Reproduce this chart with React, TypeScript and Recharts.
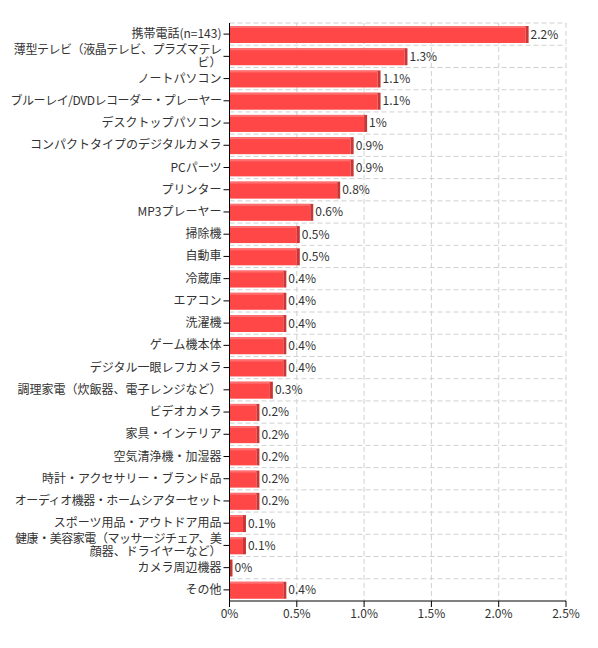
import React from 'react';
import { BarChart, Bar, XAxis, YAxis, CartesianGrid, LabelList } from 'recharts';

const categories = [
  '携帯電話(n=143)',
  '薄型テレビ（液晶テレビ、プラズマテレビ）',
  'ノートパソコン',
  'ブルーレイ/DVDレコーダー・プレーヤー',
  'デスクトップパソコン',
  'コンパクトタイプのデジタルカメラ',
  'PCパーツ',
  'プリンター',
  'MP3プレーヤー',
  '掃除機',
  '自動車',
  '冷蔵庫',
  'エアコン',
  '洗濯機',
  'ゲーム機本体',
  'デジタル一眼レフカメラ',
  '調理家電（炊飯器、電子レンジなど）',
  'ビデオカメラ',
  '家具・インテリア',
  '空気清浄機・加湿器',
  '時計・アクセサリー・ブランド品',
  'オーディオ機器・ホームシアターセット',
  'スポーツ用品・アウトドア用品',
  '健康・美容家電（マッサージチェア、美顔器、ドライヤーなど）',
  'カメラ周辺機器',
  'その他',
];

const values = [2.2, 1.3, 1.1, 1.1, 1, 0.9, 0.9, 0.8, 0.6, 0.5, 0.5, 0.4, 0.4, 0.4, 0.4, 0.4, 0.3, 0.2, 0.2, 0.2, 0.2, 0.2, 0.1, 0.1, 0, 0.4];

const xTicks = [0, 0.5, 1, 1.5, 2, 2.5];

const data = categories.map((name, i) => ({ name, value: values[i] }));

const FONT = "'Noto Sans CJK JP', 'Noto Sans', sans-serif";

const charW = (ch: string) => (ch.charCodeAt(0) < 256 ? 6.5 : 12);

function wrapLabel(text: string, maxW: number): string[] {
  const lines: string[] = [];
  let cur = '';
  let w = 0;
  for (const ch of Array.from(text)) {
    const cw = charW(ch);
    if (w + cw > maxW && cur) {
      lines.push(cur);
      cur = '';
      w = 0;
    }
    cur += ch;
    w += cw;
  }
  if (cur) lines.push(cur);
  return lines;
}

const estW = (s: string) => Array.from(s).reduce((a, c) => a + charW(c), 0);

const YTick = (props: any) => {
  const { x, y, payload } = props;
  const lines = wrapLabel(String(payload.value), 222);
  const lh = 13;
  const startDy = -((lines.length - 1) * lh) / 2;
  return (
    <text x={x} y={y} textAnchor="end" fill="#333" fontSize={12} fontFamily={FONT}>
      {lines.map((l, i) => (
        <tspan
          key={i}
          x={x}
          dy={i === 0 ? startDy + 4 : lh}
          letterSpacing={estW(l) > 214 ? -0.45 : 0}
        >
          {l}
        </tspan>
      ))}
    </text>
  );
};

const BarShape = (props: any) => {
  const { x, y, width, height } = props;
  const w = Math.max(width || 0, 0);
  return (
    <g>
      <rect x={x} y={y} width={w} height={height} fill="#ff4747" />
      <rect x={x} y={y} width={w} height={2} fill="#ff6f6f" />
      <rect x={x + w} y={y} width={3} height={height} fill="#c93636" />
    </g>
  );
};

const ValueLabel = (props: any) => {
  const { x, y, width, height, value } = props;
  return (
    <text x={x + width + 5} y={y + height / 2 + 4} fill="#333" fontSize={12} fontFamily={FONT}>
      {`${value}%`}
    </text>
  );
};

const hGen = ({ offset }: any) => {
  const n = categories.length;
  const pts: number[] = [];
  for (let i = 0; i < n; i++) pts.push(offset.top + (offset.height * i) / n);
  return pts;
};

export default function App() {
  return (
    <div style={{ width: 590, height: 640, marginLeft: -8, fontFamily: FONT }}>
      <BarChart
        width={590}
        height={640}
        data={data}
        layout="vertical"
        margin={{ top: 15, right: 24, left: 8, bottom: 17 }}
        barSize={17}
      >
        <CartesianGrid
          stroke="#d0d0d0"
          strokeDasharray="5 3"
          horizontalCoordinatesGenerator={hGen}
        />
        <XAxis
          type="number"
          domain={[0, 2.5]}
          ticks={xTicks}
          tickFormatter={(v: number) => (v === 0 ? '0%' : `${v.toFixed(1)}%`)}
          tick={{ fill: '#333', fontSize: 12, fontFamily: FONT }}
          axisLine={{ stroke: '#000' }}
          tickLine={{ stroke: '#000' }}
          height={30}
          interval={0}
        />
        <YAxis
          type="category"
          dataKey="name"
          width={221.5}
          tick={<YTick />}
          axisLine={{ stroke: '#000' }}
          tickLine={{ stroke: '#000' }}
          interval={0}
        />
        <Bar dataKey="value" isAnimationActive={false} shape={<BarShape />}>
          <LabelList dataKey="value" content={<ValueLabel />} />
        </Bar>
      </BarChart>
    </div>
  );
}
